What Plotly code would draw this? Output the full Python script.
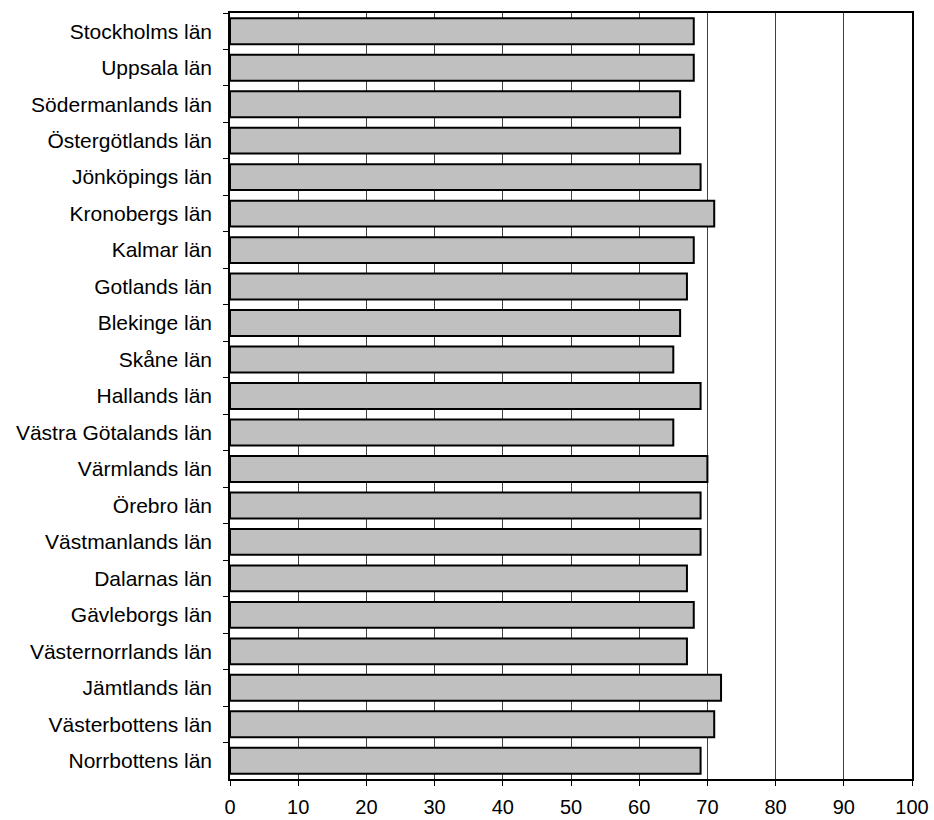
import plotly.graph_objects as go

counties = ["Stockholms län", "Uppsala län", "Södermanlands län", "Östergötlands län",
            "Jönköpings län", "Kronobergs län", "Kalmar län", "Gotlands län",
            "Blekinge län", "Skåne län", "Hallands län", "Västra Götalands län",
            "Värmlands län", "Örebro län", "Västmanlands län", "Dalarnas län",
            "Gävleborgs län", "Västernorrlands län", "Jämtlands län",
            "Västerbottens län", "Norrbottens län"]
values = [68, 68, 66, 66, 69, 71, 68, 67, 66, 65, 69, 65, 70, 69, 69, 67, 68, 67, 72, 71, 69]
x_ticks = [0, 10, 20, 30, 40, 50, 60, 70, 80, 90, 100]

fig = go.Figure(go.Bar(
    x=values, y=counties, orientation="h",
    marker=dict(color="#C0C0C0", line=dict(color="#000000", width=2)),
    hoverinfo="x+y",
))

fig.update_layout(
    width=934, height=820,
    margin=dict(l=230, r=22, t=13, b=41, autoexpand=False),
    paper_bgcolor="white", plot_bgcolor="white",
    bargap=0.29,
    showlegend=False,
    font=dict(family="Liberation Sans, Arial, sans-serif", size=21, color="black"),
)
fig.update_xaxes(
    range=[0, 100], tickvals=x_ticks, ticktext=[str(v) for v in x_ticks],
    showgrid=True, gridcolor="#404040", gridwidth=1,
    showline=True, linecolor="black", linewidth=1.5, mirror=True,
    ticks="outside", ticklen=5, tickcolor="black",
    ticklabelstandoff=4,
    zeroline=False, tickfont=dict(size=20), automargin=False,
)
fig.update_yaxes(
    autorange="reversed", tickson="boundaries",
    showgrid=False,
    showline=True, linecolor="black", linewidth=1.5, mirror=True,
    ticks="outside", ticklen=5, tickcolor="black",
    ticklabelstandoff=12,
    tickfont=dict(size=21), automargin=False,
)

fig.write_html(
    "out.html",
    config={"displayModeBar": False},
    post_script="document.body.style.margin='0';document.body.style.overflow='hidden';",
)
